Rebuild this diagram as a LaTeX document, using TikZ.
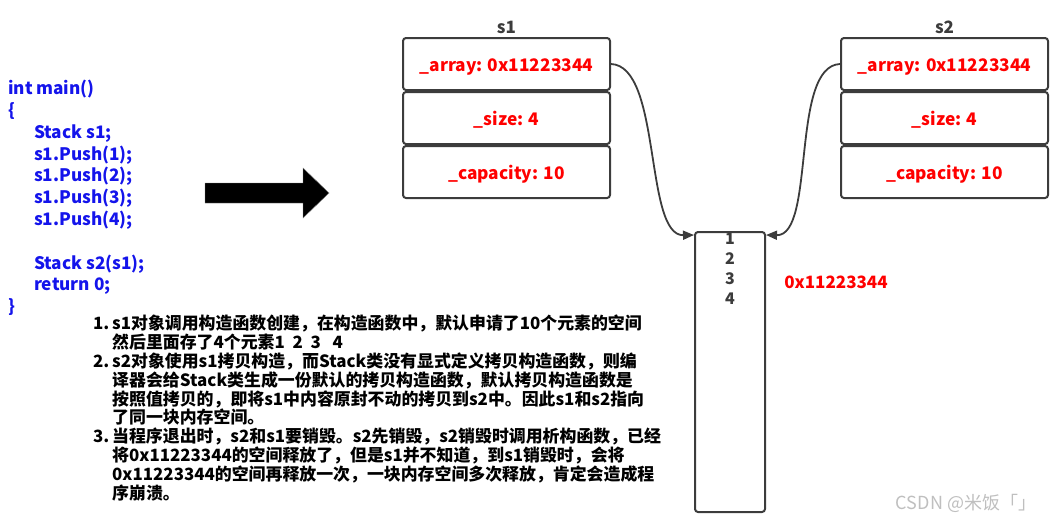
\documentclass[tikz,border=0pt]{standalone}
\usepackage{fontspec}
\setmainfont{Noto Sans CJK SC}
\usetikzlibrary{arrows.meta, positioning}

\definecolor{codeblue}{RGB}{20,20,235}
\definecolor{fieldred}{RGB}{255,0,0}
\definecolor{edge}{RGB}{60,60,60}

\newcommand\ind{\hspace*{26pt}}
\newcommand\itemno[1]{\makebox[19pt][l]{#1}}
\newcommand\cont{\hspace*{19pt}}

\begin{document}
\begin{tikzpicture}[x=1pt, y=-1pt,
    field/.style={draw=edge, line width=2pt, rounded corners=3pt, minimum width=207pt, minimum height=52pt, text height=17pt, text depth=3pt, text=fieldred, font=\fontsize{17.3}{20}\selectfont\bfseries},
    title/.style={text=edge, font=\fontsize{17}{20}\selectfont\bfseries},
    code/.style={text=codeblue, align=left, anchor=north west, inner sep=0pt, font=\fontsize{17.2}{21.8}\selectfont\bfseries},
    note/.style={align=left, anchor=north west, inner sep=0pt, font=\fontsize{16.9}{18.8}\selectfont\bfseries},
    link/.style={-{Triangle[length=11pt,width=9pt]}, draw=edge, line width=1.8pt}
]
\useasboundingbox (0,0) rectangle (1056,522);

% source code
\node[code] (src) at (8,80) {int main()\\
{\{}\\
\ind Stack s1;\\
\ind s1.Push(1);\\
\ind s1.Push(2);\\
\ind s1.Push(3);\\
\ind s1.Push(4);\\[21.8pt]
\ind Stack s2(s1);\\
\ind return 0;\\
{\}}};

% big arrow
\fill[black, draw=gray] (205,183) -- (303,183) -- (303,168) -- (329,193) -- (303,218) -- (303,203) -- (205,203) -- cycle;

% object s1
\node[field] (s1a) at (506.5,64) {\_array: 0x11223344};
\node[field, below=0pt of s1a] (s1s) {\_size: 4};
\node[field, below=0pt of s1s] (s1c) {\_capacity: 10};
\node[title, above=0pt of s1a] (s1name) {s1};

% object s2
\node[field] (s2a) at (944.5,64) {\_array: 0x11223344};
\node[field, below=0pt of s2a] (s2s) {\_size: 4};
\node[field, below=0pt of s2s] (s2c) {\_capacity: 10};
\node[title, above=0pt of s2a] (s2name) {s2};

% heap block
\node[draw=edge, line width=2pt, rounded corners=3pt, minimum width=70pt, minimum height=280pt] (mem) at (730,372) {};
\node[below=-2pt of mem.north, align=center, text=edge, font=\fontsize{16}{20}\selectfont\bfseries] (vals) {1\\2\\3\\4};
\node[title, text=fieldred] (addr) at (836,282) {0x11223344};

\draw[link] (s1a.east) .. controls (662,66) and (644,236) .. ([yshift=-4pt]mem.north west);
\draw[link] (s2a.west) .. controls (790,66) and (816,236) .. ([yshift=-4pt]mem.north east);

% explanation
\node[note] (notes) at (93,315) {\itemno{1.}s1对象调用构造函数创建，在构造函数中，默认申请了10个元素的空间\\
\cont 然后里面存了4个元素1\ \ 2\ \ 3\ \ \ 4\\
\itemno{2.}s2对象使用s1拷贝构造，而Stack类没有显式定义拷贝构造函数，则编\\
\cont 译器会给Stack类生成一份默认的拷贝构造函数，默认拷贝构造函数是\\
\cont 按照值拷贝的，即将s1中内容原封不动的拷贝到s2中。因此s1和s2指向\\
\cont 了同一块内存空间。\\
\itemno{3.}当程序退出时，s2和s1要销毁。s2先销毁，s2销毁时调用析构函数，已经\\
\cont 将0x11223344的空间释放了，但是s1并不知道，到s1销毁时，会将\\
\cont 0x11223344的空间再释放一次，一块内存空间多次释放，肯定会造成程\\
\cont 序崩溃。};

\node[text=gray!50, font=\fontsize{18}{20}\selectfont] (mark) at (966,503) {CSDN @米饭「」};
\end{tikzpicture}
\end{document}
